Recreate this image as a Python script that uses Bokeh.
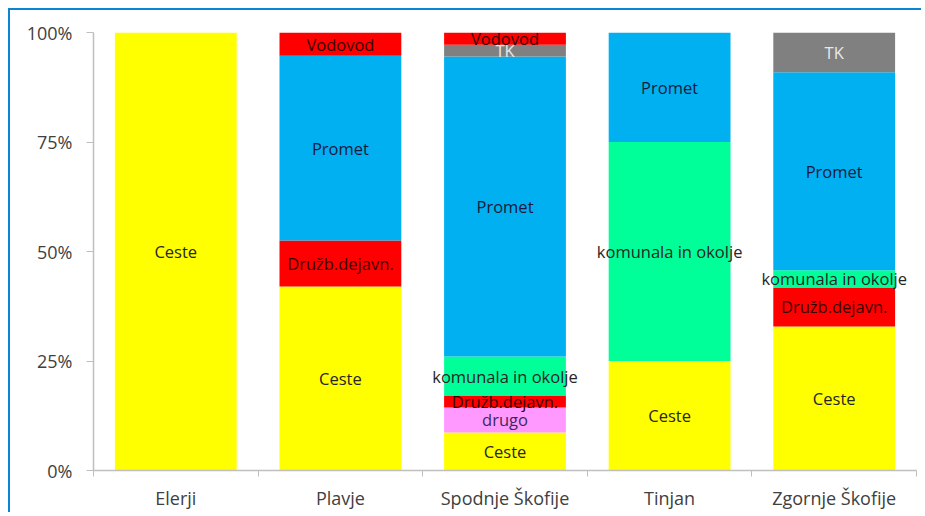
from bokeh.plotting import figure
from bokeh.models import ColumnDataSource, Range1d, FixedTicker, NumeralTickFormatter
from bokeh.core.properties import value
from bokeh.embed import file_html
from bokeh.resources import INLINE

categories = ["Elerji", "Plavje", "Spodnje Škofije", "Tinjan", "Zgornje Škofije"]
series = ["Ceste", "drugo", "Družb.dejavn.", "komunala in okolje", "Promet", "TK", "Vodovod"]
ceste = [1.00, 0.42, 0.087, 0.25, 0.329]
drugo = [0.0, 0.0, 0.057, 0.0, 0.0]
druzb = [0.0, 0.105, 0.027, 0.0, 0.089]
komunala = [0.0, 0.0, 0.089, 0.50, 0.039]
promet = [0.0, 0.422, 0.685, 0.25, 0.452]
tk = [0.0, 0.0, 0.027, 0.0, 0.091]
vodovod = [0.0, 0.053, 0.030, 0.0, 0.0]
colors = ["#FFFF00", "#FF99FF", "#FF0000", "#00FF99", "#00B0F0", "#808080", "#FF0000"]
label_colors = ["#262626", "#3a2a5a", "#3a0000", "#262626", "#1a1a40", "#E8E8E8", "#3a0000"]
y_ticks = [0, 0.25, 0.5, 0.75, 1.0]

values = [ceste, drugo, druzb, komunala, promet, tk, vodovod]
xs = [i + 0.5 for i in range(len(categories))]
data = {"x": xs}
for name, vals in zip(series, values):
    data[name] = vals
src = ColumnDataSource(data)

p = figure(width=913, height=504, output_backend="svg", toolbar_location=None,
           x_range=Range1d(0, len(categories)), y_range=Range1d(0, 1),
           min_border_left=83, min_border_right=7, min_border_top=22, min_border_bottom=44)
p.styles = {"border-top": "2px solid #0B84D8", "border-left": "2px solid #0B84D8",
            "margin-top": "8px", "margin-left": "8px"}
p.outline_line_color = None
p.xgrid.visible = False
p.ygrid.visible = False

p.vbar_stack(series, x="x", width=0.74, source=src, color=colors, line_color=None)

# labels
lx, ly, lt, lc = [], [], [], []
for i in range(len(categories)):
    base = 0.0
    for name, vals, c in zip(series, values, label_colors):
        v = vals[i]
        if v > 0:
            lx.append(xs[i]); ly.append(base + v / 2); lt.append(name); lc.append(c)
        base += v
lsrc = ColumnDataSource(dict(x=lx, y=ly, text=lt, color=lc))
p.text(x="x", y="y", text="text", text_color="color", source=lsrc,
       text_align="center", text_baseline="middle",
       text_font=value("Open Sans"), text_font_size="16.5px")

# axes
ax = p.xaxis[0]
ax.ticker = FixedTicker(ticks=xs, minor_ticks=list(range(len(categories) + 1)))
ax.major_label_overrides = {x: c for x, c in zip(xs, categories)}
ax.major_tick_line_color = None
ax.minor_tick_out = 6
ax.minor_tick_in = 0
ax.minor_tick_line_color = "#BFBFBF"
ax.axis_line_color = "#BFBFBF"
ax.axis_line_width = 1.5
ax.major_label_standoff = 9
ax.major_label_text_font = "Open Sans"
ax.major_label_text_font_size = "18px"
ax.major_label_text_color = "#404040"

ay = p.yaxis[0]
ay.ticker = FixedTicker(ticks=y_ticks, minor_ticks=[])
ay.formatter = NumeralTickFormatter(format="0%")
ay.major_tick_out = 7
ay.major_tick_in = 0
ay.major_tick_line_color = "#BFBFBF"
ay.axis_line_color = "#BFBFBF"
ay.axis_line_width = 1.5
ay.major_label_standoff = 14
ay.major_label_text_font = "Open Sans"
ay.major_label_text_font_size = "18px"
ay.major_label_text_color = "#404040"

open("out.html", "w").write(file_html(p, INLINE))
